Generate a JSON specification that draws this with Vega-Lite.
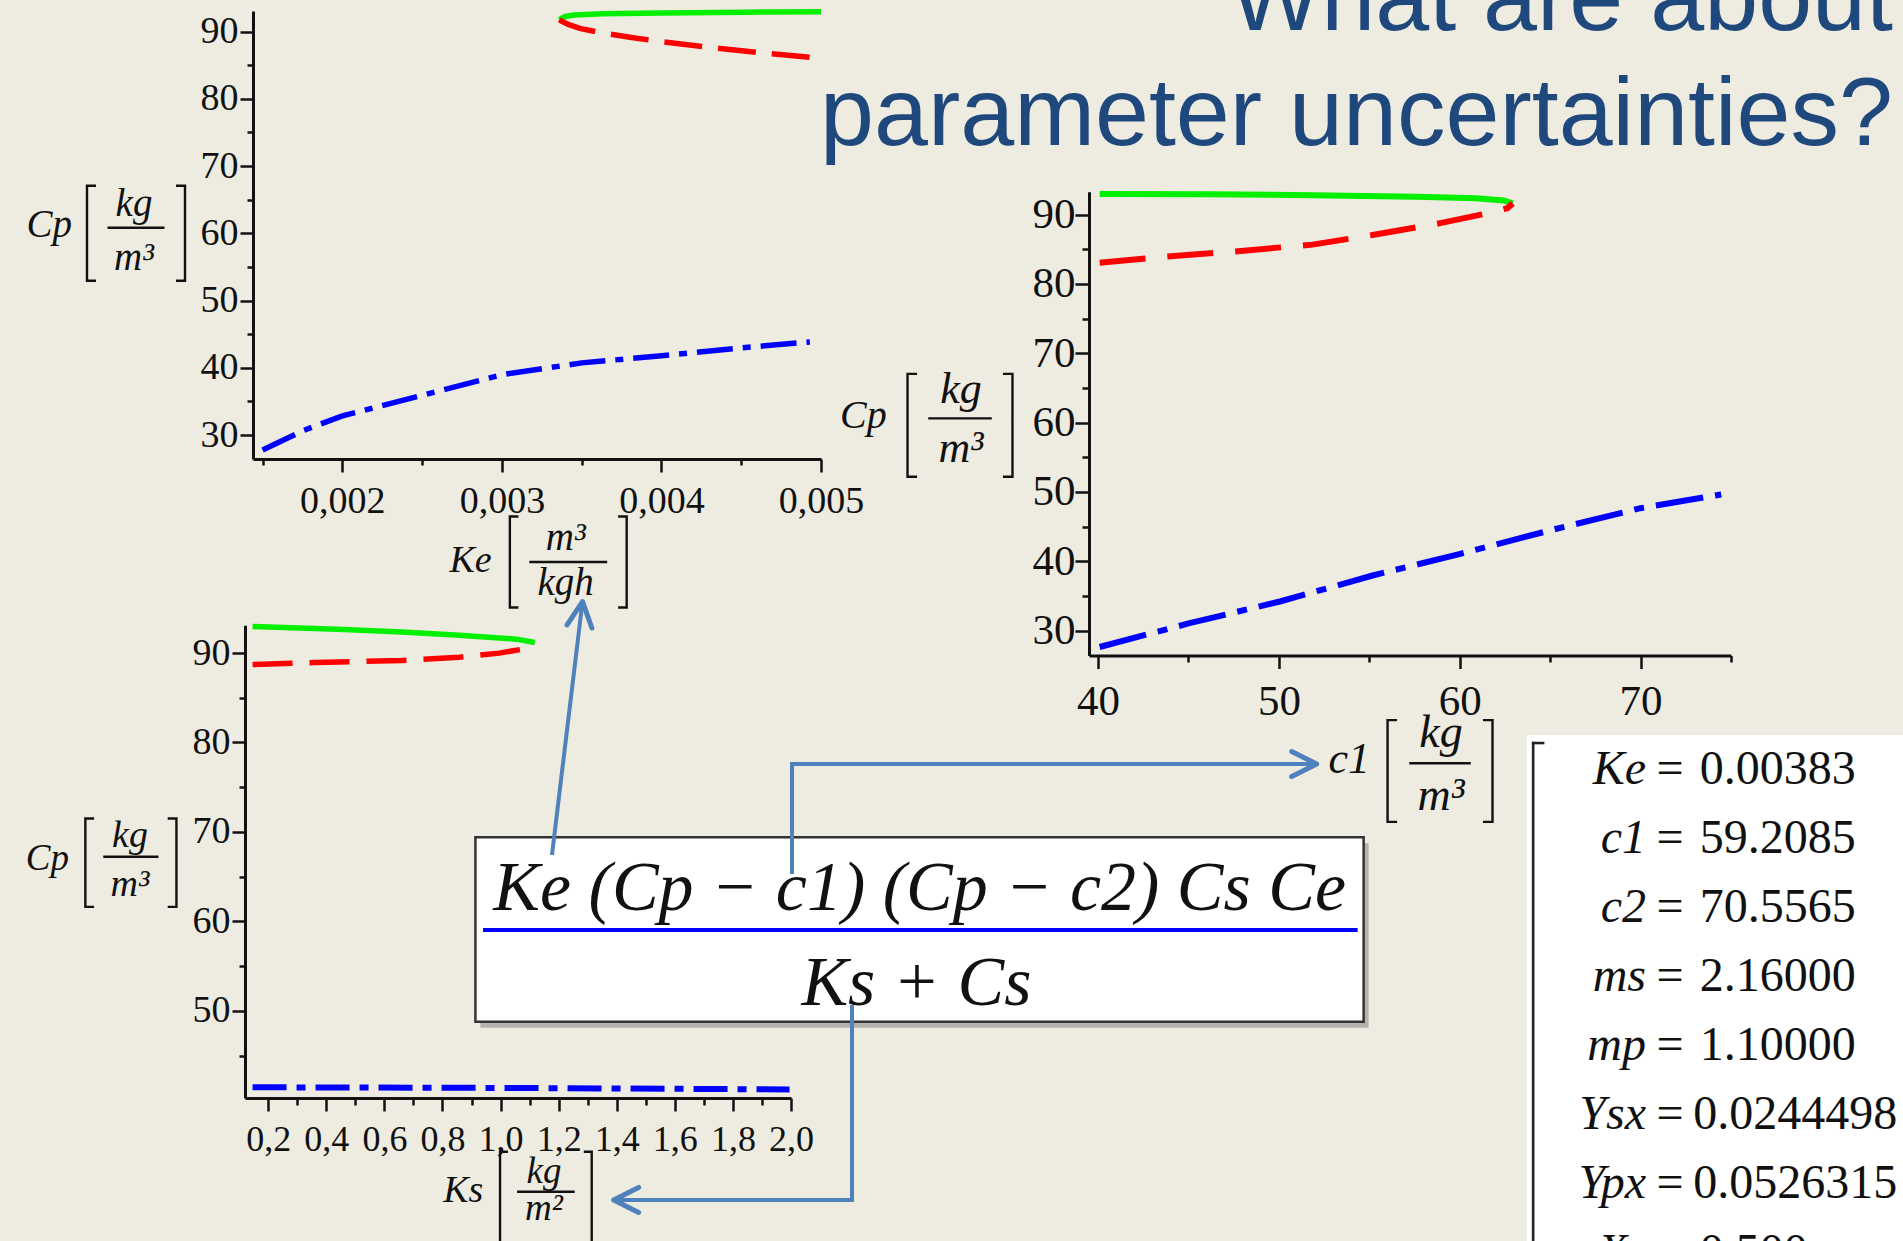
{
  "$schema": "https://vega.github.io/schema/vega-lite/v6.json",
  "width": 1903,
  "height": 1241,
  "autosize": "none",
  "padding": 0,
  "background": "#EEECE1",
  "config": {
    "view": {"stroke": null},
    "axis": {
      "grid": false,
      "domainColor": "#111111",
      "domainWidth": 3,
      "tickColor": "#111111",
      "tickWidth": 2.5,
      "labelFont": "Liberation Serif",
      "labelColor": "#111111",
      "labelOverlap": false,
      "labelFlush": false,
      "labelBound": false
    },
    "text": {"font": "Liberation Serif", "color": "#111111"}
  },
  "datasets": {
    "ke_sweep": [
      {"branch": "high", "ke": 0.00336, "cp": 91.75},
      {"branch": "high", "ke": 0.003373, "cp": 91.95},
      {"branch": "high", "ke": 0.003398, "cp": 92.23},
      {"branch": "high", "ke": 0.003452, "cp": 92.46},
      {"branch": "high", "ke": 0.003632, "cp": 92.64},
      {"branch": "high", "ke": 0.003992, "cp": 92.76},
      {"branch": "high", "ke": 0.004532, "cp": 92.88},
      {"branch": "high", "ke": 0.005, "cp": 92.94},
      {"branch": "middle", "ke": 0.00336, "cp": 91.75},
      {"branch": "middle", "ke": 0.003373, "cp": 91.55},
      {"branch": "middle", "ke": 0.003416, "cp": 91.06},
      {"branch": "middle", "ke": 0.003488, "cp": 90.47},
      {"branch": "middle", "ke": 0.003632, "cp": 89.77},
      {"branch": "middle", "ke": 0.003812, "cp": 89.12},
      {"branch": "middle", "ke": 0.004003, "cp": 88.47},
      {"branch": "middle", "ke": 0.004301, "cp": 87.65},
      {"branch": "middle", "ke": 0.004604, "cp": 86.88},
      {"branch": "middle", "ke": 0.005, "cp": 86.0},
      {"branch": "low", "ke": 0.0015, "cp": 27.8},
      {"branch": "low", "ke": 0.00175, "cp": 30.63},
      {"branch": "low", "ke": 0.002, "cp": 32.86},
      {"branch": "low", "ke": 0.0025, "cp": 35.92},
      {"branch": "low", "ke": 0.003, "cp": 38.98},
      {"branch": "low", "ke": 0.0035, "cp": 40.74},
      {"branch": "low", "ke": 0.004, "cp": 41.8},
      {"branch": "low", "ke": 0.0045, "cp": 42.97},
      {"branch": "low", "ke": 0.00493, "cp": 43.86}
    ],
    "c1_sweep": [
      {"branch": "high", "c1": 40.09, "cp": 93.0},
      {"branch": "high", "c1": 46.03, "cp": 92.94},
      {"branch": "high", "c1": 51.86, "cp": 92.82},
      {"branch": "high", "c1": 57.58, "cp": 92.57},
      {"branch": "high", "c1": 60.9, "cp": 92.38},
      {"branch": "high", "c1": 62.43, "cp": 92.06},
      {"branch": "high", "c1": 62.93, "cp": 91.63},
      {"branch": "middle", "c1": 62.93, "cp": 91.63},
      {"branch": "middle", "c1": 62.63, "cp": 90.94},
      {"branch": "middle", "c1": 61.29, "cp": 90.07},
      {"branch": "middle", "c1": 58.99, "cp": 88.81},
      {"branch": "middle", "c1": 55.18, "cp": 87.07},
      {"branch": "middle", "c1": 51.86, "cp": 85.68},
      {"branch": "middle", "c1": 47.54, "cp": 84.69},
      {"branch": "middle", "c1": 43.72, "cp": 83.94},
      {"branch": "middle", "c1": 40.09, "cp": 83.05},
      {"branch": "low", "c1": 40.09, "cp": 27.63},
      {"branch": "low", "c1": 45.06, "cp": 31.06},
      {"branch": "low", "c1": 50.06, "cp": 34.19},
      {"branch": "low", "c1": 55.18, "cp": 37.94},
      {"branch": "low", "c1": 60.03, "cp": 41.07},
      {"branch": "low", "c1": 65.1, "cp": 44.52},
      {"branch": "low", "c1": 69.99, "cp": 47.65},
      {"branch": "low", "c1": 74.46, "cp": 49.64}
    ],
    "ks_sweep": [
      {"branch": "high", "ks": 0.146, "cp": 92.96},
      {"branch": "high", "ks": 0.462, "cp": 92.64},
      {"branch": "high", "ks": 0.66, "cp": 92.36},
      {"branch": "high", "ks": 0.858, "cp": 92.0},
      {"branch": "high", "ks": 1.055, "cp": 91.55},
      {"branch": "high", "ks": 1.118, "cp": 91.18},
      {"branch": "middle", "ks": 0.146, "cp": 88.71},
      {"branch": "middle", "ks": 0.363, "cp": 88.94},
      {"branch": "middle", "ks": 0.66, "cp": 89.17},
      {"branch": "middle", "ks": 0.858, "cp": 89.53},
      {"branch": "middle", "ks": 0.996, "cp": 89.99},
      {"branch": "middle", "ks": 1.095, "cp": 90.54},
      {"branch": "middle", "ks": 1.12, "cp": 90.9},
      {"branch": "low", "ks": 0.146, "cp": 41.45},
      {"branch": "low", "ks": 1.055, "cp": 41.37},
      {"branch": "low", "ks": 1.995, "cp": 41.21}
    ]
  },
  "layer": [
    {
      "data": {"name": "ke_sweep"},
      "resolve": {"axis": {"x": "independent", "y": "independent"}},
      "layer": [
        {
          "transform": [{"filter": "datum.branch === 'high'"}],
          "mark": {"type": "line", "color": "#00f000", "strokeWidth": 5.5},
          "encoding": {
            "x": {
              "field": "ke", "type": "quantitative",
              "scale": {"domain": [0.00144, 0.005], "range": [253, 821], "nice": false, "zero": false},
              "axis": {
                "orient": "bottom", "offset": -782, "title": null,
                "values": [0.002, 0.003, 0.004, 0.005],
                "labelExpr": "replace(format(datum.value, '.3f'), '.', ',')",
                "tickSize": 13, "labelFontSize": 38, "labelPadding": 10
              }
            },
            "y": {
              "field": "cp", "type": "quantitative",
              "scale": {"domain": [26.45, 93.05], "range": [459, 11], "nice": false, "zero": false},
              "axis": {
                "orient": "left", "offset": -253, "title": null,
                "values": [30, 40, 50, 60, 70, 80, 90],
                "tickSize": 13, "labelFontSize": 38, "labelPadding": 2
              }
            }
          }
        },
        {
          "transform": [{"filter": "datum.branch === 'middle'"}],
          "mark": {"type": "line", "color": "#ff0000", "strokeWidth": 5.5, "strokeDash": [38, 16]},
          "encoding": {
            "x": {"field": "ke", "type": "quantitative",
              "axis": {"orient": "bottom", "offset": -782, "title": null, "values": [0.0015, 0.0025, 0.0035, 0.0045], "labels": false, "domain": false, "tickSize": 6}},
            "y": {"field": "cp", "type": "quantitative",
              "axis": {"orient": "left", "offset": -253, "title": null, "values": [35, 45, 55, 65, 75, 85], "labels": false, "domain": false, "tickSize": 6}}
          }
        },
        {
          "transform": [{"filter": "datum.branch === 'low'"}],
          "mark": {"type": "line", "color": "#0000ff", "strokeWidth": 5.5, "strokeDash": [36, 10, 8, 10]},
          "encoding": {
            "x": {"field": "ke", "type": "quantitative", "axis": null},
            "y": {"field": "cp", "type": "quantitative", "axis": null}
          }
        },
        {
          "data": {"values": [{}]},
          "mark": {"type": "point", "shape": "M -0.8 -0.95 L -0.98 -0.95 L -0.98 0.95 L -0.8 0.95 M 0.8 -0.95 L 0.98 -0.95 L 0.98 0.95 L 0.8 0.95 M -0.57 -0.11 L 0.57 -0.11", "size": 10000, "filled": false, "color": "#111111", "strokeWidth": 2.4, "opacity": 1, "xOffset": -117, "yOffset": 0},
          "encoding": {
            "x": {"datum": 0.00144, "type": "quantitative", "axis": null},
            "y": {"datum": 60, "type": "quantitative", "axis": null}
          }
        },
        {
          "data": {"values": [{}]},
          "mark": {"type": "text", "text": "Cp", "fontStyle": "italic", "fontSize": 39, "align": "right", "baseline": "alphabetic", "dx": -181, "dy": 4},
          "encoding": {
            "x": {"datum": 0.00144, "type": "quantitative", "axis": null},
            "y": {"datum": 60, "type": "quantitative", "axis": null}
          }
        },
        {
          "data": {"values": [{}]},
          "mark": {"type": "text", "text": ["kg", "m³"], "lineHeight": 54, "fontStyle": "italic", "fontSize": 39, "align": "center", "baseline": "alphabetic", "dx": -119, "dy": -17},
          "encoding": {
            "x": {"datum": 0.00144, "type": "quantitative", "axis": null},
            "y": {"datum": 60, "type": "quantitative", "axis": null}
          }
        },
        {
          "data": {"values": [{}]},
          "mark": {"type": "point", "shape": "M -0.845 -0.77 L -0.99 -0.77 L -0.99 0.77 L -0.845 0.77 M 0.845 -0.77 L 0.99 -0.77 L 0.99 0.77 L 0.845 0.77 M -0.66 0 L 0.66 0", "size": 13924, "filled": false, "color": "#111111", "strokeWidth": 2.4, "opacity": 1, "xOffset": -13.4, "yOffset": 103},
          "encoding": {
            "x": {"datum": 0.0035, "type": "quantitative", "axis": null},
            "y": {"datum": 26.45, "type": "quantitative", "axis": null}
          }
        },
        {
          "data": {"values": [{}]},
          "mark": {"type": "text", "text": "Ke", "fontStyle": "italic", "fontSize": 38, "align": "right", "baseline": "alphabetic", "dx": -90, "dy": 113},
          "encoding": {
            "x": {"datum": 0.0035, "type": "quantitative", "axis": null},
            "y": {"datum": 26.45, "type": "quantitative", "axis": null}
          }
        },
        {
          "data": {"values": [{}]},
          "mark": {"type": "text", "text": ["m³", "kgh"], "lineHeight": 45, "fontStyle": "italic", "fontSize": 39, "align": "center", "baseline": "alphabetic", "dx": -16, "dy": 91},
          "encoding": {
            "x": {"datum": 0.0035, "type": "quantitative", "axis": null},
            "y": {"datum": 26.45, "type": "quantitative", "axis": null}
          }
        }
      ]
    },
    {
      "data": {"name": "c1_sweep"},
      "resolve": {"axis": {"x": "independent", "y": "independent"}},
      "layer": [
        {
          "transform": [{"filter": "datum.branch === 'high'"}],
          "mark": {"type": "line", "color": "#00f000", "strokeWidth": 6},
          "encoding": {
            "x": {
              "field": "c1", "type": "quantitative",
              "scale": {"domain": [39.5, 75], "range": [1089, 1731], "nice": false, "zero": false},
              "axis": {
                "orient": "bottom", "offset": -585.5, "title": null,
                "values": [40, 50, 60, 70],
                "tickSize": 13, "labelFontSize": 43, "labelPadding": 12
              }
            },
            "y": {
              "field": "cp", "type": "quantitative",
              "scale": {"domain": [26.4, 93.3], "range": [655.5, 191.8], "nice": false, "zero": false},
              "axis": {
                "orient": "left", "offset": -1089, "title": null,
                "values": [30, 40, 50, 60, 70, 80, 90],
                "tickSize": 14, "labelFontSize": 43, "labelPadding": 0
              }
            }
          }
        },
        {
          "transform": [{"filter": "datum.branch === 'middle'"}],
          "mark": {"type": "line", "color": "#ff0000", "strokeWidth": 6, "strokeDash": [46, 22]},
          "encoding": {
            "x": {"field": "c1", "type": "quantitative",
              "axis": {"orient": "bottom", "offset": -585.5, "title": null, "values": [45, 55, 65, 75], "labels": false, "domain": false, "tickSize": 6.5}},
            "y": {"field": "cp", "type": "quantitative",
              "axis": {"orient": "left", "offset": -1089, "title": null, "values": [35, 45, 55, 65, 75, 85], "labels": false, "domain": false, "tickSize": 7}}
          }
        },
        {
          "transform": [{"filter": "datum.branch === 'low'"}],
          "mark": {"type": "line", "color": "#0000ff", "strokeWidth": 6, "strokeDash": [48, 12, 10, 12]},
          "encoding": {
            "x": {"field": "c1", "type": "quantitative", "axis": null},
            "y": {"field": "cp", "type": "quantitative", "axis": null}
          }
        },
        {
          "data": {"values": [{}]},
          "mark": {"type": "point", "shape": "M -0.81 -0.97 L -0.99 -0.97 L -0.99 0.97 L -0.81 0.97 M 0.81 -0.97 L 0.99 -0.97 L 0.99 0.97 L 0.81 0.97 M -0.6 -0.13 L 0.6 -0.13", "size": 11236, "filled": false, "color": "#111111", "strokeWidth": 2.4, "opacity": 1, "xOffset": -129, "yOffset": 2.7},
          "encoding": {
            "x": {"datum": 39.5, "type": "quantitative", "axis": null},
            "y": {"datum": 60, "type": "quantitative", "axis": null}
          }
        },
        {
          "data": {"values": [{}]},
          "mark": {"type": "text", "text": "Cp", "fontStyle": "italic", "fontSize": 40, "align": "right", "baseline": "alphabetic", "dx": -202.3, "dy": 5.7},
          "encoding": {
            "x": {"datum": 39.5, "type": "quantitative", "axis": null},
            "y": {"datum": 60, "type": "quantitative", "axis": null}
          }
        },
        {
          "data": {"values": [{}]},
          "mark": {"type": "text", "text": ["kg", "m³"], "lineHeight": 58.4, "fontStyle": "italic", "fontSize": 44, "align": "center", "baseline": "alphabetic", "dx": -128, "dy": -19.3},
          "encoding": {
            "x": {"datum": 39.5, "type": "quantitative", "axis": null},
            "y": {"datum": 60, "type": "quantitative", "axis": null}
          }
        },
        {
          "data": {"values": [{}]},
          "mark": {"type": "point", "shape": "M -0.81 -0.96 L -0.99 -0.96 L -0.99 0.96 L -0.81 0.96 M 0.81 -0.96 L 0.99 -0.96 L 0.99 0.96 L 0.81 0.96 M -0.58 -0.145 L 0.58 -0.145", "size": 11236, "filled": false, "color": "#111111", "strokeWidth": 2.4, "opacity": 1, "xOffset": -19.7, "yOffset": 115.5},
          "encoding": {
            "x": {"datum": 60, "type": "quantitative", "axis": null},
            "y": {"datum": 26.4, "type": "quantitative", "axis": null}
          }
        },
        {
          "data": {"values": [{}]},
          "mark": {"type": "text", "text": "c1", "fontStyle": "italic", "fontSize": 44, "align": "right", "baseline": "alphabetic", "dx": -89.7, "dy": 117.8},
          "encoding": {
            "x": {"datum": 60, "type": "quantitative", "axis": null},
            "y": {"datum": 26.4, "type": "quantitative", "axis": null}
          }
        },
        {
          "data": {"values": [{}]},
          "mark": {"type": "text", "text": ["kg", "m³"], "lineHeight": 63.3, "fontStyle": "italic", "fontSize": 46, "align": "center", "baseline": "alphabetic", "dx": -18.7, "dy": 91.2},
          "encoding": {
            "x": {"datum": 60, "type": "quantitative", "axis": null},
            "y": {"datum": 26.4, "type": "quantitative", "axis": null}
          }
        },
        {
          "data": {"values": [{}]},
          "mark": {"type": "text", "text": ["What are about", "parameter uncertainties?"], "lineHeight": 115, "font": "Liberation Sans", "fontSize": 97, "color": "#1F497D", "align": "right", "baseline": "alphabetic", "dx": 162, "dy": -161.8},
          "encoding": {
            "x": {"datum": 75, "type": "quantitative", "axis": null},
            "y": {"datum": 93.3, "type": "quantitative", "axis": null}
          }
        },
        {
          "data": {"values": [{}]},
          "mark": {"type": "rect", "fill": "#ffffff"},
          "encoding": {
            "x": {"datum": 63.72, "type": "quantitative", "axis": null},
            "x2": {"datum": 90},
            "y": {"datum": 14.92, "type": "quantitative", "axis": null},
            "y2": {"datum": -60}
          }
        },
        {
          "data": {"values": [{}]},
          "mark": {"type": "rule", "color": "#222222", "strokeWidth": 2.6, "strokeCap": "square"},
          "encoding": {
            "x": {"datum": 64.06, "type": "quantitative", "axis": null},
            "y": {"datum": 13.77, "type": "quantitative", "axis": null},
            "y2": {"datum": -60}
          }
        },
        {
          "data": {"values": [{}]},
          "mark": {"type": "rule", "color": "#222222", "strokeWidth": 2.6, "strokeCap": "square"},
          "encoding": {
            "x": {"datum": 64.06, "type": "quantitative", "axis": null},
            "x2": {"datum": 64.61},
            "y": {"datum": 13.77, "type": "quantitative", "axis": null}
          }
        },
        {
          "data": {"values": [{}]},
          "mark": {"type": "text", "text": ["Ke", "c1", "c2", "ms", "mp", "Ysx", "Ypx", "Xs"], "lineHeight": 69, "fontStyle": "italic", "fontSize": 48, "align": "right", "baseline": "alphabetic", "dx": 5.4, "dy": 15.3},
          "encoding": {
            "x": {"datum": 70, "type": "quantitative", "axis": null},
            "y": {"datum": 10, "type": "quantitative", "axis": null}
          }
        },
        {
          "data": {"values": [{}]},
          "mark": {"type": "text", "text": ["=\u20040.00383", "=\u200459.2085", "=\u200470.5565", "=\u20042.16000", "=\u20041.10000", "=\u20090.0244498", "=\u20090.0526315", "=\u20040.500"], "lineHeight": 69, "fontSize": 48, "align": "left", "baseline": "alphabetic", "dx": 16, "dy": 15.3},
          "encoding": {
            "x": {"datum": 70, "type": "quantitative", "axis": null},
            "y": {"datum": 10, "type": "quantitative", "axis": null}
          }
        }
      ]
    },
    {
      "data": {"name": "ks_sweep"},
      "resolve": {"axis": {"x": "independent", "y": "independent"}},
      "layer": [
        {
          "transform": [{"filter": "datum.branch === 'high'"}],
          "mark": {"type": "line", "color": "#00f000", "strokeWidth": 5.5},
          "encoding": {
            "x": {
              "field": "ks", "type": "quantitative",
              "scale": {"domain": [0.12, 2.0], "range": [245, 791], "nice": false, "zero": false},
              "axis": {
                "orient": "bottom", "offset": -143, "title": null,
                "values": [0.2, 0.4, 0.6, 0.8, 1.0, 1.2, 1.4, 1.6, 1.8, 2.0],
                "labelExpr": "replace(format(datum.value, '.1f'), '.', ',')",
                "tickSize": 13, "labelFontSize": 36, "labelPadding": 11
              }
            },
            "y": {
              "field": "cp", "type": "quantitative",
              "scale": {"domain": [40.25, 93.1], "range": [1098, 625.3], "nice": false, "zero": false},
              "axis": {
                "orient": "left", "offset": -245, "title": null,
                "values": [50, 60, 70, 80, 90],
                "tickSize": 13, "labelFontSize": 38, "labelPadding": 2
              }
            }
          }
        },
        {
          "transform": [{"filter": "datum.branch === 'middle'"}],
          "mark": {"type": "line", "color": "#ff0000", "strokeWidth": 5.5, "strokeDash": [40, 17]},
          "encoding": {
            "x": {"field": "ks", "type": "quantitative",
              "axis": {"orient": "bottom", "offset": -143, "title": null, "values": [0.3, 0.5, 0.7, 0.9, 1.1, 1.3, 1.5, 1.7, 1.9], "labels": false, "domain": false, "tickSize": 7}},
            "y": {"field": "cp", "type": "quantitative",
              "axis": {"orient": "left", "offset": -245, "title": null, "values": [45, 55, 65, 75, 85], "labels": false, "domain": false, "tickSize": 6}}
          }
        },
        {
          "transform": [{"filter": "datum.branch === 'low'"}],
          "mark": {"type": "line", "color": "#0000ff", "strokeWidth": 6, "strokeDash": [34, 10, 9, 10]},
          "encoding": {
            "x": {"field": "ks", "type": "quantitative", "axis": null},
            "y": {"field": "cp", "type": "quantitative", "axis": null}
          }
        },
        {
          "data": {"values": [{}]},
          "mark": {"type": "point", "shape": "M -0.8 -0.96 L -0.99 -0.96 L -0.99 0.96 L -0.8 0.96 M 0.8 -0.96 L 0.99 -0.96 L 0.99 0.96 L 0.8 0.96 M -0.6 -0.13 L 0.6 -0.13", "size": 8464, "filled": false, "color": "#111111", "strokeWidth": 2.4, "opacity": 1, "xOffset": -114.1, "yOffset": -13.9},
          "encoding": {
            "x": {"datum": 0.12, "type": "quantitative", "axis": null},
            "y": {"datum": 65, "type": "quantitative", "axis": null}
          }
        },
        {
          "data": {"values": [{}]},
          "mark": {"type": "text", "text": "Cp", "fontStyle": "italic", "fontSize": 37, "align": "right", "baseline": "alphabetic", "dx": -176.1, "dy": -6.6},
          "encoding": {
            "x": {"datum": 0.12, "type": "quantitative", "axis": null},
            "y": {"datum": 65, "type": "quantitative", "axis": null}
          }
        },
        {
          "data": {"values": [{}]},
          "mark": {"type": "text", "text": ["kg", "m³"], "lineHeight": 49.4, "fontStyle": "italic", "fontSize": 38, "align": "center", "baseline": "alphabetic", "dx": -115, "dy": -29.6},
          "encoding": {
            "x": {"datum": 0.12, "type": "quantitative", "axis": null},
            "y": {"datum": 65, "type": "quantitative", "axis": null}
          }
        },
        {
          "data": {"values": [{}]},
          "mark": {"type": "point", "shape": "M -0.79 -0.99 L -0.955 -0.99 L -0.955 0.99 L -0.79 0.99 M 0.79 -0.99 L 0.955 -0.99 L 0.955 0.99 L 0.79 0.99 M -0.6 -0.156 L 0.6 -0.156", "size": 9216, "filled": false, "color": "#111111", "strokeWidth": 2.4, "opacity": 1, "xOffset": 45.3, "yOffset": 101.2},
          "encoding": {
            "x": {"datum": 1.0, "type": "quantitative", "axis": null},
            "y": {"datum": 40.25, "type": "quantitative", "axis": null}
          }
        },
        {
          "data": {"values": [{}]},
          "mark": {"type": "text", "text": "Ks", "fontStyle": "italic", "fontSize": 38, "align": "right", "baseline": "alphabetic", "dx": -17.3, "dy": 103.7},
          "encoding": {
            "x": {"datum": 1.0, "type": "quantitative", "axis": null},
            "y": {"datum": 40.25, "type": "quantitative", "axis": null}
          }
        },
        {
          "data": {"values": [{}]},
          "mark": {"type": "text", "text": ["kg", "m²"], "lineHeight": 37, "fontStyle": "italic", "fontSize": 37, "align": "center", "baseline": "alphabetic", "dx": 43.4, "dy": 85},
          "encoding": {
            "x": {"datum": 1.0, "type": "quantitative", "axis": null},
            "y": {"datum": 40.25, "type": "quantitative", "axis": null}
          }
        },
        {
          "data": {"values": [{}]},
          "mark": {"type": "rect", "fill": "#6f6f6f", "opacity": 0.45, "xOffset": 5, "x2Offset": 5, "yOffset": 6, "y2Offset": 6},
          "encoding": {
            "x": {"datum": 0.9134, "type": "quantitative", "axis": null},
            "x2": {"datum": 3.9717},
            "y": {"datum": 69.4, "type": "quantitative", "axis": null},
            "y2": {"datum": 48.78}
          }
        },
        {
          "data": {"values": [{}]},
          "mark": {"type": "rect", "fill": "#ffffff", "stroke": "#333333", "strokeWidth": 2.5},
          "encoding": {
            "x": {"datum": 0.9134, "type": "quantitative", "axis": null},
            "x2": {"datum": 3.9717},
            "y": {"datum": 69.4, "type": "quantitative", "axis": null},
            "y2": {"datum": 48.78}
          }
        },
        {
          "data": {"values": [{}]},
          "mark": {"type": "rule", "color": "#0000ff", "strokeWidth": 4},
          "encoding": {
            "x": {"datum": 0.9396, "type": "quantitative", "axis": null},
            "x2": {"datum": 3.951},
            "y": {"datum": 59.03, "type": "quantitative", "axis": null}
          }
        },
        {
          "data": {"values": [{}]},
          "mark": {"type": "text", "text": "Ke (Cp − c1) (Cp − c2) Cs Ce", "fontStyle": "italic", "fontSize": 70, "align": "center", "baseline": "alphabetic"},
          "encoding": {
            "x": {"datum": 2.443, "type": "quantitative", "axis": null},
            "y": {"datum": 61.28, "type": "quantitative", "axis": null}
          }
        },
        {
          "data": {"values": [{}]},
          "mark": {"type": "text", "text": "Ks + Cs", "fontStyle": "italic", "fontSize": 70, "align": "center", "baseline": "alphabetic"},
          "encoding": {
            "x": {"datum": 2.432, "type": "quantitative", "axis": null},
            "y": {"datum": 50.65, "type": "quantitative", "axis": null}
          }
        },
        {
          "data": {"values": [{}]},
          "mark": {"type": "rule", "color": "#4F81BD", "strokeWidth": 4},
          "encoding": {
            "x": {"datum": 1.177, "type": "quantitative", "axis": null},
            "x2": {"datum": 1.2798},
            "y": {"datum": 67.42, "type": "quantitative", "axis": null},
            "y2": {"datum": 95.15}
          }
        },
        {
          "data": {"values": [{}]},
          "mark": {"type": "rule", "color": "#4F81BD", "strokeWidth": 4, "strokeCap": "square"},
          "encoding": {
            "x": {"datum": 2.0035, "type": "quantitative", "axis": null},
            "y": {"datum": 65.52, "type": "quantitative", "axis": null},
            "y2": {"datum": 77.59}
          }
        },
        {
          "data": {"values": [{}]},
          "mark": {"type": "rule", "color": "#4F81BD", "strokeWidth": 4, "strokeCap": "square"},
          "encoding": {
            "x": {"datum": 2.0035, "type": "quantitative", "axis": null},
            "x2": {"datum": 3.79},
            "y": {"datum": 77.59, "type": "quantitative", "axis": null}
          }
        },
        {
          "data": {"values": [{}]},
          "mark": {"type": "rule", "color": "#4F81BD", "strokeWidth": 4, "strokeCap": "square"},
          "encoding": {
            "x": {"datum": 2.21, "type": "quantitative", "axis": null},
            "y": {"datum": 50.42, "type": "quantitative", "axis": null},
            "y2": {"datum": 28.85}
          }
        },
        {
          "data": {"values": [{}]},
          "mark": {"type": "rule", "color": "#4F81BD", "strokeWidth": 4, "strokeCap": "square"},
          "encoding": {
            "x": {"datum": 2.21, "type": "quantitative", "axis": null},
            "x2": {"datum": 1.4},
            "y": {"datum": 28.85, "type": "quantitative", "axis": null}
          }
        },
        {
          "data": {"values": [{}]},
          "mark": {"type": "point", "shape": "M -1 -0.5 L 0 0 L -1 0.5", "size": 2500, "filled": false, "color": "#4F81BD", "strokeWidth": 5, "strokeCap": "round", "strokeJoin": "round", "opacity": 1, "angle": -83},
          "encoding": {
            "x": {"datum": 1.2822, "type": "quantitative", "axis": null},
            "y": {"datum": 95.74, "type": "quantitative", "axis": null}
          }
        },
        {
          "data": {"values": [{}]},
          "mark": {"type": "point", "shape": "M -1 -0.5 L 0 0 L -1 0.5", "size": 2500, "filled": false, "color": "#4F81BD", "strokeWidth": 5, "strokeCap": "round", "strokeJoin": "round", "opacity": 1, "angle": 0},
          "encoding": {
            "x": {"datum": 3.81, "type": "quantitative", "axis": null},
            "y": {"datum": 77.59, "type": "quantitative", "axis": null}
          }
        },
        {
          "data": {"values": [{}]},
          "mark": {"type": "point", "shape": "M -1 -0.5 L 0 0 L -1 0.5", "size": 2500, "filled": false, "color": "#4F81BD", "strokeWidth": 5, "strokeCap": "round", "strokeJoin": "round", "opacity": 1, "angle": 180},
          "encoding": {
            "x": {"datum": 1.3893, "type": "quantitative", "axis": null},
            "y": {"datum": 28.85, "type": "quantitative", "axis": null}
          }
        }
      ]
    }
  ],
  "resolve": {"scale": {"x": "independent", "y": "independent"}}
}
